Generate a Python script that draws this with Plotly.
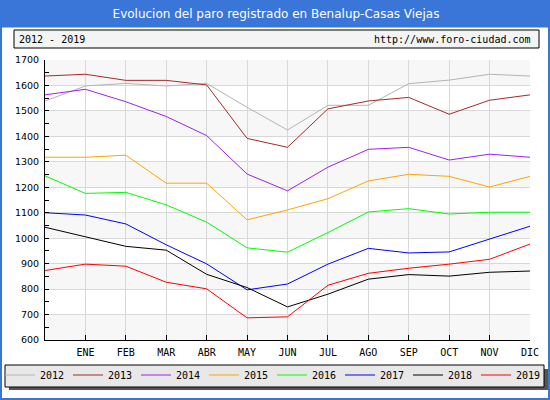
import plotly.graph_objects as go

# months: position 0 is the previous december (no label)
months = ["", "ENE", "FEB", "MAR", "ABR", "MAY", "JUN", "JUL", "AGO", "SEP", "OCT", "NOV", "DIC"]
pos = list(range(13))

paro = {
    "2012": [1539, 1598, 1608, 1598, 1608, 1514, 1425, 1522, 1522, 1607, 1621, 1644, 1637],
    "2013": [1637, 1644, 1620, 1620, 1602, 1392, 1357, 1508, 1539, 1553, 1487, 1542, 1563],
    "2014": [1563, 1585, 1536, 1478, 1403, 1252, 1186, 1279, 1349, 1357, 1307, 1330, 1318],
    "2015": [1318, 1318, 1326, 1216, 1216, 1072, 1111, 1155, 1225, 1251, 1243, 1201, 1243],
    "2016": [1245, 1176, 1180, 1131, 1063, 962, 945, 1022, 1103, 1116, 1095, 1102, 1102],
    "2017": [1100, 1091, 1056, 974, 899, 797, 820, 898, 960, 942, 946, 996, 1047],
    "2018": [1043, 1006, 968, 953, 858, 806, 730, 780, 839, 857, 851, 866, 871],
    "2019": [873, 898, 890, 827, 801, 687, 691, 815, 862, 882, 898, 917, 977],
}
colores = {
    "2012": "#b4b4b4", "2013": "#a52a2a", "2014": "#a020f0", "2015": "#ffa500",
    "2016": "#00ff00", "2017": "#0000ff", "2018": "#000000", "2019": "#ff0000",
}

W, H = 550, 400
L, R, T, B = 45, 530, 60, 340
STEP = 68  # legend entry spacing in px
MONO = "DejaVu Sans Mono"

def px(x):
    return (x - L) / (R - L)

def py(y):
    return (B - y) / (B - T)

fig = go.Figure()
for i, (anio, vals) in enumerate(paro.items()):
    # two legends of four entries so the row never wraps
    fig.add_trace(go.Scatter(x=pos, y=vals, name=anio, mode="lines",
                             legend="legend" if i < 4 else "legend2",
                             line=dict(color=colores[anio], width=1)))

shapes = []
# alternate bands
for y0 in range(600, 1700, 200):
    shapes.append(dict(type="rect", xref="paper", yref="y", x0=0, x1=1, y0=y0, y1=y0 + 100,
                       fillcolor="#f7f7f7", line=dict(width=0), layer="below"))
# subtitle box
shapes.append(dict(type="rect", xref="paper", yref="paper", x0=px(14), x1=px(539), y0=py(30), y1=py(48),
                   fillcolor="#f4f4f4", line=dict(color="black", width=1), layer="below"))
# legend shadow + box
shapes.append(dict(type="rect", xref="paper", yref="paper", x0=px(9), x1=px(548), y0=py(369), y1=py(390),
                   fillcolor="#555555", line=dict(width=0), layer="below"))
shapes.append(dict(type="rect", xref="paper", yref="paper", x0=px(5), x1=px(544), y0=py(365), y1=py(387),
                   fillcolor="#e8e8e8", line=dict(color="black", width=1), layer="below"))
# outer blue frame
shapes.append(dict(type="rect", xref="paper", yref="paper", x0=px(1), x1=px(549), y0=py(1), y1=py(399),
                   line=dict(color="#3a76d8", width=2), layer="above"))

annotations = [
    # title bar: blue box behind white text
    dict(text="Evolucion del paro registrado en Benalup-Casas Viejas", xref="paper", yref="paper",
         x=px(0), y=py(0), xanchor="left", yanchor="top", width=W, height=26, borderpad=0,
         bgcolor="#3a76d8", showarrow=False, align="center", valign="middle",
         font=dict(family="DejaVu Sans", size=12, color="white")),
    dict(text="2012 - 2019", xref="paper", yref="paper", x=px(17), y=py(39),
         xanchor="left", yanchor="middle",
         showarrow=False, font=dict(family=MONO, size=10, color="black")),
    dict(text="http://www.foro-ciudad.com", xref="paper", yref="paper", x=px(533), y=py(39),
         xanchor="right", yanchor="middle",
         showarrow=False, font=dict(family=MONO, size=10, color="black")),
]

leg = dict(orientation="h", xref="container", yref="container", xanchor="left", yanchor="middle",
           y=1 - 375 / H, bgcolor="rgba(0,0,0,0)", entrywidth=STEP - 45, traceorder="normal",
           font=dict(family=MONO, size=10, color="black"))

fig.update_layout(
    width=W, height=H,
    margin=dict(l=L, r=W - R, t=T, b=H - B, autoexpand=False),
    paper_bgcolor="white", plot_bgcolor="white",
    shapes=shapes, annotations=annotations,
    showlegend=True,
    legend=dict(leg, x=0),
    legend2=dict(leg, x=4 * STEP / W),
    xaxis=dict(range=[0, 12], tickvals=pos, ticktext=months, showgrid=True, gridcolor="#d8d8d8",
               showline=True, linecolor="black", ticks="inside", ticklen=5, tickcolor="black",
               zeroline=False, ticklabelstandoff=3,
               tickfont=dict(family=MONO, size=10, color="black")),
    yaxis=dict(range=[600, 1700], dtick=100, showgrid=True, gridcolor="#d8d8d8",
               showline=True, linecolor="black", ticks="inside", ticklen=4, tickcolor="black",
               zeroline=False, ticklabelstandoff=3,
               tickfont=dict(family="DejaVu Sans", size=9.5, color="black"),
               minor=dict(dtick=50, ticks="inside", ticklen=4, tickcolor="black", showgrid=False)),
)

fig.write_html("out.html", config={"displayModeBar": False},
               post_script="document.body.style.margin='0';")
